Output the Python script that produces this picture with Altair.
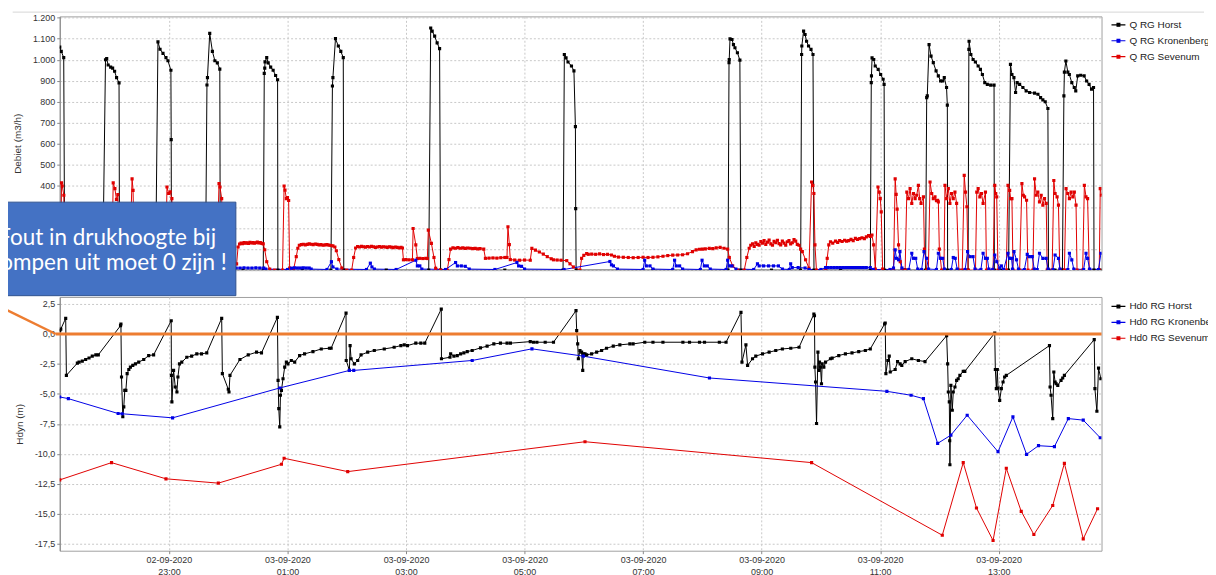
import altair as alt
import pandas as pd

# ---------------- data (minutes after 02-09-2020 21:00, value) ----------------
BASE = pd.Timestamp("2020-09-02 21:00:00")

Q_HORST = [
    (9.5, 1060), (11, 1040), (13.5, 1010), (14.5, 0), (35, 0),
    (53, 0), (55.8, 1000), (57, 1005), (58.5, 975), (61, 965), (63, 960), (65, 945), (67, 915), (69.5, 890), (70, 0), (90, 0),
    (106.5, 0), (108.9, 1085), (111, 1050), (114, 1030), (117, 1010), (119, 995), (122, 950), (122.3, 620), (122.6, 0), (140, 0),
    (157, 0), (158.5, 880), (159, 915), (161.3, 1125), (164, 1040), (166.5, 995), (169, 985), (171.5, 955), (172, 0), (195, 0),
    (215.5, 0), (216.5, 935), (217, 960), (217.3, 990), (219, 1010), (220.5, 985), (223, 965), (225.5, 950), (228, 925), (230, 905), (230.3, 0), (255, 0),
    (284, 0), (285.5, 875), (286, 915), (288.6, 1100), (291.5, 1065), (294, 1040), (296.5, 1010), (297, 0), (340, 0),
    (383, 0), (385, 1151), (386.5, 1136), (389, 1112), (391.5, 1080), (394, 1053), (395, 0), (460, 0),
    (519, 0), (520.3, 1025), (522, 1009), (524, 989), (527.5, 970), (530, 947), (531.5, 682), (531.8, 292), (532.2, 0), (610, 0),
    (686, 0), (687, 986), (687.2, 1001), (688, 1099), (690, 1096), (691.5, 1072), (693, 1057), (695.5, 1033), (698, 998), (699, 0), (730, 0),
    (759.5, 0), (760.5, 1025), (760.7, 1065), (762.5, 1136), (764, 1120), (765.5, 1088), (767.5, 1065), (770, 1049), (772, 1025), (773, 0), (800, 0),
    (830, 0), (831, 891), (831.2, 923), (831.8, 1009), (833.5, 1001), (835, 970), (838, 954), (840.5, 930), (843, 907), (844, 883), (844.5, 0), (865, 0),
    (886, 0), (887.1, 820), (887.7, 828), (889.5, 1072), (891.5, 1017), (893.8, 986), (896.6, 947), (898.9, 923), (901.2, 899), (903.2, 899), (904.9, 915), (907.2, 868), (908, 784), (908.3, 0), (918, 0),
    (929, 0), (929.8, 1049), (930, 1088), (931.8, 1025), (934.1, 1001), (936.4, 989), (939.2, 970), (941.5, 954), (943.5, 930), (945.9, 891), (948.5, 883), (951.9, 879), (955.3, 879), (955.6, 0), (962, 0),
    (970, 0), (971.9, 978), (973.4, 930), (975.4, 915), (977.1, 844), (978.7, 891), (981.2, 883), (984.5, 868), (987.8, 852), (991.3, 844), (996.3, 841), (999.7, 836), (1002.4, 820), (1004.7, 809), (1007.1, 800), (1009.8, 768), (1010.4, 0), (1017, 0),
    (1024.5, 0), (1026, 828), (1026.5, 941), (1028, 994), (1030, 941), (1031.5, 930), (1034, 891), (1036.5, 868), (1038, 852), (1040, 923), (1043, 926), (1046.5, 923), (1049, 899), (1051.5, 883), (1054, 860), (1056, 868), (1056.5, 0), (1064, 0),
]

Q_KRONENBERG = [
    (9.5, 3), (30, 3), (60, 3), (90, 3), (120, 3), (150, 3), (186, 4), (188, 10), (192, 10), (196, 11), (200, 10), (204, 10), (208, 11), (212, 10), (216, 10), (218, 5),
    (240, 3), (244, 9), (247, 11), (250, 10), (253, 10), (256, 11), (259, 10), (262, 10), (264, 5), (280, 3), (284.5, 40), (286, 15), (290, 5),
    (320, 3), (323.9, 33), (325.5, 15), (328, 5), (350, 3), (369.9, 47), (371.5, 20), (374, 20), (376, 5), (400, 3), (410.2, 36), (412, 20), (416, 20), (420, 18), (424, 5),
    (450, 3), (472.3, 36), (474, 20), (477, 18), (480, 5), (520, 3), (566.4, 41), (568, 25), (570, 20), (574, 5), (600, 3), (601.6, 47), (603.3, 20), (607, 20), (610, 5),
    (630, 3), (631.9, 47), (633.6, 20), (637, 20), (640, 5), (658, 3), (659.7, 47), (662, 20), (665, 20), (668, 5), (684, 3), (685.6, 47), (687.3, 20), (690, 20), (694, 5),
    (712, 3), (715.8, 30), (717.5, 20), (722, 20), (727, 20), (732, 20), (737, 20), (741, 5), (748, 3), (749.4, 30), (751, 12), (757, 12), (764, 10), (768, 3),
    (780, 3), (784.7, 12), (787, 12), (790, 12), (793, 12), (796, 12), (799, 12), (802, 12), (805, 12), (808, 12), (811, 12), (814, 12), (817, 12), (820, 12), (823, 12), (826, 12), (830, 12), (833, 3),
    (850, 3), (853.5, 10), (855.2, 96), (856.5, 56), (858.6, 49), (860, 88), (862, 10), (869, 3), (872, 80), (873.7, 56), (876, 56), (878, 5), (882, 3), (884.4, 88), (887, 56), (889, 5),
    (897, 3), (898.9, 80), (901, 56), (903.3, 56), (905, 5), (912, 3), (914, 60), (916, 56), (918, 5), (926, 3), (928.5, 88), (931, 64), (934, 64), (936, 5), (942, 3), (944.2, 80), (946.6, 56), (948.5, 56), (950, 5),
    (954, 3), (956, 72), (958, 40), (961, 10), (962.7, 20), (965, 3), (969.4, 80), (971, 56), (973, 56), (974, 5), (975.5, 88), (978, 49), (980, 5), (986, 3), (988.9, 75), (991, 64), (994, 64), (996, 5),
    (999, 3), (1001.3, 80), (1004.7, 56), (1008, 56), (1010, 5), (1015, 3), (1017.1, 72), (1020.5, 56), (1022, 5), (1030, 3), (1031.6, 80), (1034, 49), (1036, 5), (1046, 3), (1048.4, 80), (1050, 56), (1052, 5), (1061, 3), (1063.5, 80),
]

Q_SEVENUM = [
    (9.5, 120), (10.5, 110), (11.3, 415), (12, 400), (13.6, 356), (14.5, 60), (16, 5), (30, 0), (40, 5), (45, 110), (50, 120), (55, 118), (58, 60), (60, 5), (62, 0),
    (63.6, 415), (65.3, 387), (66.9, 336), (68.3, 359), (69.5, 80), (71, 5), (80, 2), (82.7, 434), (83.7, 379), (85, 60), (87, 5), (100, 0), (105, 100), (110, 120), (115, 118), (117, 110),
    (118, 395), (119.7, 364), (121.3, 372), (123, 340), (124, 60), (126, 5), (140, 0), (150, 95), (155, 120), (160, 122), (165, 118), (169, 100), (170.7, 411), (171.7, 395), (173.4, 340), (175, 60), (177, 5), (186, 0),
    (188.5, 30), (190, 110), (191.5, 124), (193, 128), (194.5, 126), (196, 131), (197.5, 128), (199, 130), (200.5, 127), (202, 132), (203.5, 129), (205, 131), (206.5, 128), (208, 130), (209.5, 133), (211, 129), (212.5, 131), (214, 127), (215.5, 125), (217, 97), (219, 40), (222, 5), (227, 0),
    (235, 0), (236.6, 400), (237.5, 380), (238.9, 340), (240, 345), (241.2, 331), (242.2, 10), (246, 0),
    (248.9, 64), (250.5, 104), (252, 118), (254, 121), (256, 123), (258, 120), (260, 122), (262, 125), (264, 123), (266, 121), (268, 124), (270, 122), (272, 120), (274, 121), (276, 118), (278, 120), (280, 121), (282, 119), (284, 117), (286, 115), (288, 110), (289.5, 92), (292, 50), (295, 10), (300, 0),
    (305, 0), (307, 60), (309, 105), (311, 112), (313, 110), (315, 113), (317, 111), (319, 109), (321, 112), (323, 110), (325, 113), (327, 111), (329, 108), (331, 110), (333, 112), (335, 109), (337, 111), (339, 110), (341, 108), (343, 111), (345, 109), (347, 107), (349, 110), (351, 108), (353, 106), (355, 108), (356.4, 105),
    (357.4, 49), (360, 50), (363, 49), (366.5, 49), (367.2, 198), (369.9, 120), (371.5, 55), (374, 56), (377, 55), (380, 56), (381.6, 55), (382.6, 190), (385.7, 127), (388.3, 60), (390, 9), (395, 0), (401.8, 0),
    (403.5, 50), (405.1, 100), (407.5, 106), (410, 104), (412.5, 107), (415, 104), (417.5, 106), (420, 103), (422.5, 105), (425, 104), (427.5, 102), (430, 103), (432.5, 101), (435, 102), (438.7, 100),
    (440.4, 56), (444, 57), (448, 58), (452, 57), (456, 59), (460, 60), (462.2, 60), (463.2, 206), (464.6, 121), (465.6, 50), (470, 48), (475, 47), (480, 48), (485.8, 47),
    (487.4, 103), (491, 95), (495, 86), (499, 76), (503, 64), (507, 54), (509.3, 49), (513, 48), (517, 47), (522.7, 45), (526, 30), (529.4, 15), (536.1, 0),
    (537.8, 56), (540, 70), (542.9, 79), (544.5, 75), (548, 76), (552, 75), (556, 77), (560, 74), (564, 75), (568, 72), (571, 66), (575, 62), (580, 61), (585, 60), (590, 59), (595, 60), (600, 61), (605, 60), (610, 61), (615, 63),
    (620.1, 66), (625, 69), (630, 71), (635, 72), (640, 73), (645, 78), (650, 88), (653.7, 96), (657, 99), (660, 100), (663, 101), (667, 103), (670.5, 102), (674, 106), (678, 108), (682, 104), (685.6, 100), (687.3, 60), (690.7, 20), (695.7, 0), (702.4, 0),
    (705, 60), (707.4, 104), (709, 118), (710.8, 125), (712.5, 112), (714.1, 130), (715.8, 122), (717.5, 118), (719.2, 136), (720.9, 128), (722.5, 140), (724.2, 122), (725.9, 133), (727.6, 143), (729.3, 125), (731, 118),
    (732.6, 137), (734.3, 130), (736, 142), (737.7, 126), (739.3, 120), (741, 138), (742.7, 128), (744.4, 118), (746, 135), (747.7, 140), (749.4, 125), (751.1, 130), (752.8, 145), (754.5, 138), (756.1, 122), (757.8, 118),
    (759.5, 100), (761.2, 88), (764.5, 49), (767.9, 9), (770.6, 419), (771.9, 403), (772.9, 364), (774, 120), (775.5, 0), (785, 0),
    (786.4, 56), (788, 120), (789.7, 135), (792, 128), (794.8, 138), (797, 132), (799, 140), (801.5, 136), (804, 142), (806, 138), (808.2, 140), (810.5, 146), (812.7, 140), (814.9, 151), (817, 146), (819.3, 150), (821.6, 154), (824, 150), (826, 158), (828.3, 164), (830, 160), (831.7, 167), (833.4, 120), (835.1, 5),
    (837.8, 395), (839.1, 371), (840.1, 340), (841.1, 277), (842.5, 5), (850, 0),
    (853.5, 0), (855.2, 434), (856.2, 360), (857.2, 290), (858.6, 120), (860.3, 40), (862, 0),
    (865.3, 0), (867, 371), (868.7, 340), (870.3, 387), (872, 317), (873.7, 364), (875.4, 340), (877, 356), (878.7, 403), (880, 340), (881.4, 317), (883.8, 348), (884.8, 100), (887.1, 0),
    (888.8, 0), (890.5, 419), (892.2, 364), (893.8, 340), (895.5, 348), (897, 330), (898.2, 332), (898.9, 324), (899.9, 100), (902.2, 0),
    (904.6, 0), (905.6, 403), (907.3, 340), (909, 387), (910.6, 317), (912.3, 364), (914, 340), (915.7, 371), (917.4, 317), (919.7, 0),
    (923.1, 0), (925.1, 450), (926.4, 371), (927.8, 301), (929.1, 0), (936.5, 0), (937.8, 371), (939.2, 387), (940.9, 348), (942.6, 364), (944.2, 317), (946.6, 371), (947.6, 0),
    (954.3, 0), (956, 403), (957, 364), (958, 348), (959.3, 0),
    (967.7, 0), (969.4, 403), (971.1, 379), (972.1, 340), (973.4, 340), (974.5, 0),
    (981.2, 0), (983.5, 411), (984.9, 356), (986.2, 348), (988.2, 332), (989.6, 0),
    (994.6, 0), (996.3, 434), (998, 356), (999.6, 371), (1001.3, 324), (1003, 356), (1004.7, 309), (1006.4, 340), (1008.1, 317), (1009.1, 0),
    (1014.1, 0), (1015.8, 426), (1017.1, 364), (1019.1, 348), (1020.5, 309), (1021.8, 0),
    (1026.5, 0), (1028.2, 387), (1029.9, 364), (1031.6, 340), (1033.3, 371), (1035, 348), (1036.6, 371), (1038.3, 309), (1039.3, 0),
    (1045, 0), (1046.7, 403), (1048.4, 348), (1050, 340), (1051.7, 0),
    (1061.8, 0), (1062.8, 387), (1064, 356),
]

H_HORST = [
    (9.5, 0.28), (10.5, 0.4), (15.5, 1.3), (16.2, -3.45), (27.3, -2.43), (29, -2.35), (32.3, -2.27), (35.7, -2.13), (39.1, -2.0), (42.4, -1.85), (46, -1.74), (48.5, -1.74),
    (71, 0.69), (71.4, 0.83), (72, -3.59), (73.3, -6.9), (74.3, -6.08), (75.3, -4.7), (76.4, -4.7), (77.7, -3.3), (79.4, -2.96), (81, -2.76), (83.4, -2.62), (86.1, -2.49), (89.4, -2.35), (94.5, -2.13), (99.5, -1.8), (104.5, -1.74),
    (122.3, 1.1), (122.5, -3.45), (123, -5.66), (124.7, -3.04), (126.4, -4.42), (128.1, -4.84), (129.1, -3.59), (130.7, -2.49), (133, -2.35), (138.1, -1.94), (143, -1.85), (148.2, -1.66), (153, -1.66), (158.3, -1.58),
    (173.4, 1.3), (174.1, -3.3), (180.1, -4.61), (180.8, -4.84), (181.8, -3.45), (191.9, -2.13), (200.3, -1.74), (208.7, -1.52), (213.7, -1.58),
    (229.8, 1.38), (230.5, -3.87), (231.2, -6.22), (232.2, -7.74), (232.9, -5.11), (233.9, -4.7), (235.5, -3.73), (237.2, -2.76), (238.9, -2.35), (240.5, -2.49), (243.9, -2.21), (247.3, -2.35), (252.3, -1.8), (257.3, -1.66), (265.8, -1.47), (274.2, -1.25), (282.5, -1.19), (284.2, -1.19),
    (299.3, 1.74), (299.5, -2.21), (302.7, -3.04), (303.4, -0.97), (304.4, -2.07), (307.7, -2.49), (311.1, -2.21), (314.5, -1.74), (321.2, -1.52), (327.9, -1.38), (338, -1.25), (348, -1.11), (354.8, -0.97),
    (358.2, -0.91), (361.5, -0.97), (369.9, -0.77), (375, -0.77), (379, -0.77),
    (395.7, 2.07), (395.9, -2.07), (404.5, -1.94), (405.2, -1.66), (408.5, -1.85), (411.9, -1.8), (415.3, -1.66), (418.6, -1.58), (422, -1.47), (427, -1.38), (435.4, -1.16), (442.1, -1.02), (448.9, -0.83), (455.6, -0.77), (462.3, -0.77), (465.7, -0.77), (485.8, -0.64), (489.1, -0.69), (492.5, -0.69), (500.9, -0.69), (509.3, -0.69),
    (532.1, 1.94), (532.8, 0.28), (533.8, -0.83), (534.5, -2.07), (536.1, -1.38), (537.8, -1.52), (538.9, -3.04), (539.5, -1.66), (541.2, -1.66), (542.9, -1.74), (547.9, -1.66), (553, -1.52), (558, -1.38), (563, -1.19), (569.8, -1.02), (576.5, -0.91), (586.6, -0.83), (589.9, -0.83),
    (601.7, -0.69), (610, -0.69), (620.1, -0.69), (640.3, -0.69), (647, -0.69), (657.1, -0.69), (662.2, -0.69), (677.2, -0.69), (684, -0.69),
    (699.1, 1.8), (700.1, -2.35), (704.1, -0.91), (705.8, -2.62), (710.8, -2.07), (714.1, -1.85), (720.9, -1.66), (727.6, -1.52), (734.3, -1.38), (741, -1.25), (749.5, -1.19), (757.9, -1.11),
    (772.9, 1.66), (773.5, 1.52), (773.9, -2.76), (774.6, -4.0), (775.6, -7.46), (777, -1.52), (778, -3.04), (778.6, -2.35), (779.6, -2.76), (780.6, -4.15), (781.3, -2.49), (783, -2.76), (784.7, -2.35), (789.7, -2.07), (791.4, -2.02), (798.1, -1.8), (804.8, -1.66), (811.5, -1.58), (818.3, -1.47), (825, -1.38), (830, -1.25),
    (844.5, 0.83), (845.1, 0.91), (845.8, -3.3), (847.8, -2.21), (849.2, -1.85), (850.2, -3.17), (855.2, -2.96), (857.6, -2.3), (860.2, -2.49), (861.9, -2.62), (865.3, -2.3), (872, -2.07), (878.7, -2.21), (885.4, -2.3),
    (907.3, -0.14), (908.3, -2.49), (909, -4.84), (910, -5.66), (910.4, -8.9), (910.6, -10.9), (911.6, -4.28), (913, -6.36), (914, -4.84), (915.7, -4.42), (917.4, -3.87), (919, -3.73), (920.7, -3.45), (924.1, -3.12), (925.7, -3.12),
    (956, 0.08), (956.6, -2.96), (957.6, -4.56), (958.6, -2.96), (959.3, -4.5), (961, -5.53), (962.7, -4.56), (964.4, -4.0), (966, -3.59), (967.7, -3.45),
    (1011.4, -0.97), (1012, -4.42), (1013, -5.11), (1014.7, -7.05), (1015.8, -3.17), (1017.1, -4.0), (1018.1, -4.15), (1019.8, -4.28), (1023.1, -3.87), (1024.8, -3.67), (1026.5, -3.45),
    (1056.7, -0.47), (1057.4, -4.56), (1059.4, -6.44), (1061.1, -2.85), (1063.4, -3.73),
]

H_KRONENBERG = [
    (9.5, -5.25), (18.2, -5.39), (68.6, -6.63), (72.6, -6.65), (123.7, -6.99), (232.2, -4.5), (302.7, -3.04), (307.1, -3.04),
    (427, -2.21), (487.5, -1.24), (539.5, -1.85), (667.2, -3.67), (846.8, -4.78), (871.3, -5.11), (883.8, -5.39), (898.2, -9.12),
    (911.6, -8.43), (928.1, -6.77), (959.3, -9.81), (974.4, -6.91), (988.2, -10.03), (1000.3, -9.31), (1016.4, -9.39), (1030.5, -7.05),
    (1045.6, -7.18), (1062.8, -8.65),
]

H_SEVENUM = [
    (9.5, -12.16), (61.9, -10.72), (117, -12.07), (170, -12.43), (233.9, -10.86), (236.6, -10.36), (301, -11.47), (541.2, -8.98),
    (770.6, -10.72), (902.9, -16.77), (924.1, -10.72), (937.5, -14.5), (954.3, -17.21), (967.7, -11.19), (982.8, -14.78),
    (995.6, -16.71), (1014.7, -14.29), (1026.5, -10.78), (1045.6, -17.07), (1060.1, -14.56),
]

Q_NAMES = ["Q RG Horst", "Q RG Kronenberg", "Q RG Sevenum"]
H_NAMES = ["Hd0 RG Horst", "Hd0 RG Kronenberg", "Hd0 RG Sevenum"]
SERIES_COLORS = ["#000000", "#0000e6", "#e00000"]
Q_TICKS = [0, 100, 200, 300, 400, 500, 600, 700, 800, 900, 1000, 1100, 1200]
H_TICKS = [-17.5, -15.0, -12.5, -10.0, -7.5, -5.0, -2.5, 0.0, 2.5]
X_TICKS = [(2, 23), (3, 1), (3, 3), (3, 5), (3, 7), (3, 9), (3, 11), (3, 13)]
CALLOUT = ["Fout in drukhoogte bij", "pompen uit moet 0 zijn !"]


def to_frame(name, pairs):
    return pd.DataFrame({
        "series": name,
        "time": [(BASE + pd.Timedelta(minutes=m)).strftime("%Y-%m-%dT%H:%M:%S") for m, _ in pairs],
        "value": [v for _, v in pairs],
    })


df_q = pd.concat([to_frame(Q_NAMES[0], Q_HORST), to_frame(Q_NAMES[2], Q_SEVENUM),
                  to_frame(Q_NAMES[1], Q_KRONENBERG)], ignore_index=True)
df_h = pd.concat([to_frame(H_NAMES[0], H_HORST), to_frame(H_NAMES[1], H_KRONENBERG),
                  to_frame(H_NAMES[2], H_SEVENUM)], ignore_index=True)
ann = pd.DataFrame({"k": [0]})

W, HT = 1047, 255
FONT = "Liberation Sans"

x_scale = alt.Scale(domain=[
    alt.DateTime(year=2020, month=9, date=2, hours=21, minutes=9, seconds=28),
    alt.DateTime(year=2020, month=9, date=3, hours=14, minutes=44, seconds=6),
])
x_vals = [alt.DateTime(year=2020, month=9, date=d, hours=h) for d, h in X_TICKS]

LEG_PATH = "M-1,0L1,0M-0.2,-0.2L0.2,-0.2L0.2,0.2L-0.2,0.2Z"


def legend(y):
    return alt.Legend(title=None, orient="none", legendX=W + 9, legendY=y, padding=0,
                      symbolType=LEG_PATH, symbolSize=196, symbolStrokeWidth=1.2,
                      labelFont=FONT, labelFontSize=10, labelColor="#222",
                      labelOffset=3, rowPadding=3)


# ---------------- top panel ----------------
base_q = alt.Chart(df_q).encode(
    x=alt.X("time:T", scale=x_scale,
            axis=alt.Axis(values=x_vals, tickCount=40, labels=False, ticks=False, domain=False, title=None)),
    y=alt.Y("value:Q", scale=alt.Scale(domain=[0, 1206], nice=False, zero=False),
            axis=alt.Axis(values=Q_TICKS, tickCount=40, title="Debiet (m3/h)", titlePadding=10, labelOverlap=False,
                          labelExpr="replace(format(datum.value, ','), ',', '.')")),
    color=alt.Color("series:N", scale=alt.Scale(domain=Q_NAMES, range=SERIES_COLORS), legend=legend(0.5)),
)
q_line = base_q.mark_line(strokeWidth=1, clip=True)
q_pts = base_q.mark_point(shape="square", filled=True, size=10, opacity=1, clip=True)

box = alt.Chart(ann).mark_rect(color="#4472C4", stroke="#2F528F", strokeWidth=1).encode(
    x=alt.value(-82.3), x2=alt.value(177), y=alt.value(186.7), y2=alt.value(280.7))
box_text = alt.Chart(ann).mark_text(text=CALLOUT, font="Lato", fontSize=22.6, color="white",
                                     align="center", baseline="alphabetic", lineHeight=25).encode(
    x=alt.value(47.7), y=alt.value(229.7))
top_line = alt.Chart(ann).mark_rule(color="#d6d6d6", strokeWidth=1).encode(
    x=alt.value(-47.3), x2=alt.value(1150), y=alt.value(-4.3))

top = alt.layer(q_line, q_pts, box, box_text, top_line).properties(width=W, height=HT)

# ---------------- bottom panel ----------------
base_h = alt.Chart(df_h).encode(
    x=alt.X("time:T", scale=x_scale,
            axis=alt.Axis(values=x_vals, tickCount=40, title=None, domain=False, labelFontSize=9, labelLineHeight=11.5,
                          labelPadding=2, labelBaseline="top",
                          labelExpr="[timeFormat(datum.value, '%d-%m-%Y'), timeFormat(datum.value, '%H:%M')]")),
    y=alt.Y("value:Q", scale=alt.Scale(domain=[-18.06, 3.08], nice=False, zero=False),
            axis=alt.Axis(values=H_TICKS, tickCount=40, title="Hdyn (m)", titlePadding=10, labelOverlap=False,
                          labelExpr="(datum.value < 0 ? '-' : '') + replace(format(abs(datum.value), '.1f'), '.', ',')")),
    color=alt.Color("series:N", scale=alt.Scale(domain=H_NAMES, range=SERIES_COLORS), legend=legend(1.5)),
)
h_line = base_h.mark_line(strokeWidth=1, clip=True)
h_pts = base_h.mark_point(shape="square", filled=True, size=10, opacity=1, clip=True)

zero_line = alt.Chart(ann).mark_rule(color="#ED7D31", strokeWidth=3).encode(
    y=alt.datum(0), x=alt.value(-4), x2=alt.value(W))
pointer = alt.Chart(ann).mark_rule(color="#ED7D31", strokeWidth=2.5).encode(
    x=alt.value(-82.3), y=alt.value(-1), x2=alt.value(-4), y2=alt.value(37.2))

bottom = alt.layer(h_line, h_pts, zero_line, pointer).properties(width=W, height=HT)

chart = alt.vconcat(top, bottom, spacing=27, bounds="flush").resolve_scale(
    color="independent", y="independent", x="independent"
).resolve_legend(color="independent").properties(
    padding={"left": -33, "top": 1, "right": -14, "bottom": 0},
    background="white",
).configure_view(
    stroke="#a0a0a0", strokeWidth=1
).configure_axis(
    gridColor="#c8c8c8", gridDash=[2, 2], gridWidth=1,
    labelFont=FONT, labelFontSize=9, labelColor="#333",
    titleFont=FONT, titleFontSize=10, titleFontWeight="normal", titleColor="#333",
    tickColor="#888", tickSize=3, labelPadding=2, zindex=0,
)

chart.save("out.html", embed_options={"renderer": "svg", "actions": False})
